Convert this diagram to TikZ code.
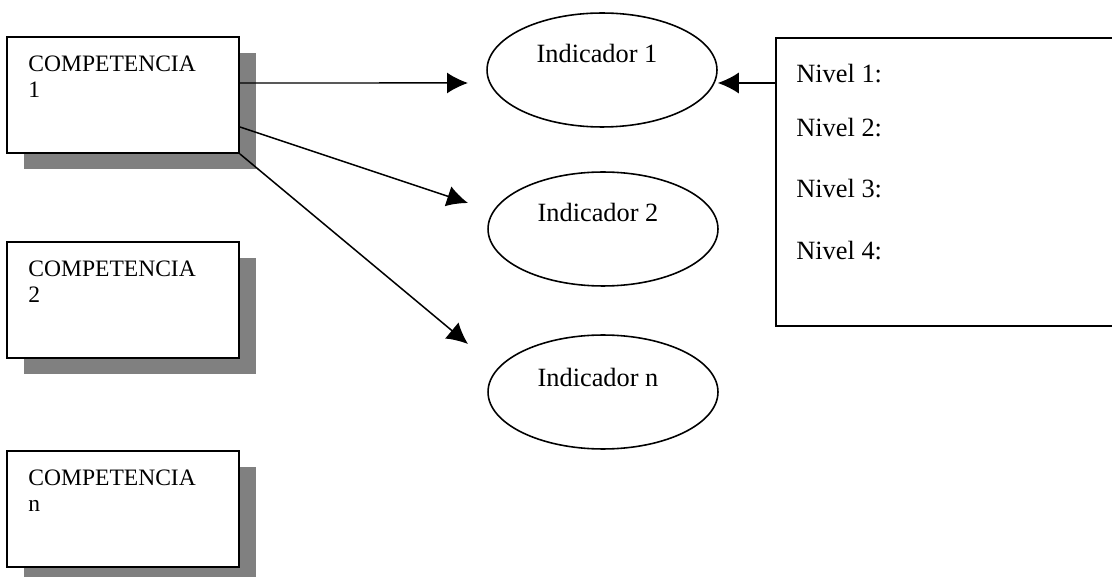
\documentclass[tikz,border=0pt]{standalone}
\usepackage{fontspec}
\setmainfont{Liberation Serif}
\usetikzlibrary{arrows.meta,positioning,shapes.geometric,shadows}
\tikzstyle{competencia}=[
	draw=black,
	rectangle,
	line width=1.1pt,
	minimum width=4.64cm,
	minimum height=2.32cm,
	fill=white,
	drop shadow={shadow xshift=.34cm,shadow yshift=-.32cm,fill=black!50,opacity=1}]
\tikzstyle{indicador}=[
	draw=black,
	ellipse,
	line width=.9pt,
	inner sep=0,
	minimum width=4.6cm,
	minimum height=2.28cm]
\tikzstyle{niveles}=[
	draw=black,
	rectangle,
	line width=1.1pt,
	minimum width=6.88cm,
	minimum height=5.76cm]
\tikzstyle{etiqueta}=[
	inner sep=0,
	align=left,
	font=\fontsize{13.4}{14.8}\selectfont]
\tikzstyle{grande}=[
	inner sep=0,
	font=\fontsize{15}{17}\selectfont]
\tikzstyle{flecha}=[
	->,
	line width=.85pt]

\begin{document}
\begin{tikzpicture}[x=.02cm,y=-.02cm,>={Latex[length=.42cm,width=.42cm]}]
	\useasboundingbox (0,0) rectangle (1112,577);
	\begin{scope}
		\node[competencia]	(comp1)	at (123,95)	{};
		\node[competencia]	(comp2)	at (123,300)	{};
		\node[competencia]	(compn)	at (123,509)	{};
		\node[etiqueta,anchor=north west] (tcomp1) at ([shift={(.44cm,-.40cm)}]comp1.north west) {COMPETENCIA\\1};
		\node[etiqueta,anchor=north west] (tcomp2) at ([shift={(.44cm,-.40cm)}]comp2.north west) {COMPETENCIA\\2};
		\node[etiqueta,anchor=north west] (tcompn) at ([shift={(.44cm,-.40cm)}]compn.north west) {COMPETENCIA\\n};
	\end{scope}
	\begin{scope}
		\node[indicador]	(ind1)	at (602,70)	{};
		\node[indicador]	(ind2)	at (603,229)	{};
		\node[indicador]	(indn)	at (603,392)	{};
		\node[grande,anchor=base] (tind1) at ([shift={(-.1cm,.14cm)}]ind1.center) {Indicador 1};
		\node[grande,anchor=base] (tind2) at ([shift={(-.1cm,.14cm)}]ind2.center) {Indicador 2};
		\node[grande,anchor=base] (tindn) at ([shift={(-.1cm,.10cm)}]indn.center) {Indicador n};
	\end{scope}
	\begin{scope}
		\node[niveles]	(nivel)	at (948,182)	{};
		\foreach \n/\y in {1/83,2/137,3/198,4/260}
			\node[grande,anchor=base west] (niv\n) at (796,\y) {Nivel \n:};
	\end{scope}
	% flechas
	\coordinate (punta1) at (468,83);
	\coordinate (punta2) at (468,203);
	\coordinate (puntan) at (468,344);
	\draw[flecha] ([yshift=.24cm]comp1.east) -- (punta1);
	\draw[flecha] ([yshift=-.64cm]comp1.east) -- (punta2);
	\draw[flecha] (comp1.south east) -- (puntan);
	\draw[flecha] (nivel.west |- punta1) -- (ind1.east |- punta1);
\end{tikzpicture}
\end{document}
